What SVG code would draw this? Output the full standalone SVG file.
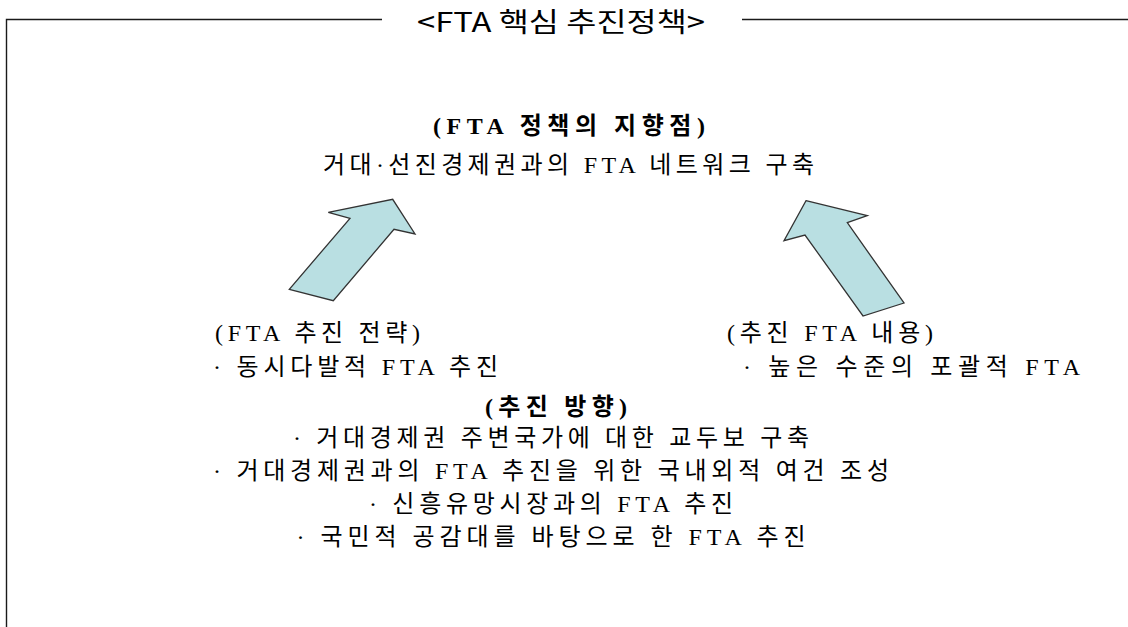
<svg xmlns="http://www.w3.org/2000/svg" width="1128" height="627" viewBox="0 0 1128 627">
<style>
.frame{stroke:#1a1a1a;stroke-width:1.4;fill:none}
.t{font-family:"Liberation Serif","Noto Sans CJK KR",serif;font-size:24px;fill:#000}
.c{text-anchor:middle}
.b{font-weight:bold}
.title{font-family:"Noto Sans CJK KR","Liberation Sans",sans-serif;font-size:27px;fill:#000}
.arrow{fill:#B9DFE2;stroke:#333;stroke-width:1.3;stroke-linejoin:miter}
</style>
<rect width="1128" height="627" fill="#fff"/>
<g id="frame">
<path class="frame" d="M6.5,627 V19.5 H382 M742,19.5 H1128"/>
<text class="title" x="417" y="32" textLength="288" lengthAdjust="spacingAndGlyphs">&lt;FTA 핵심 추진정책&gt;</text>
</g>
<g id="goal">
<text class="t b" x="433" y="134" textLength="272">(FTA 정책의 지향점)</text>
<text class="t" x="323" y="173" textLength="491">거대·선진경제권과의 FTA 네트워크 구축</text>
</g>
<g id="strategy">
<text class="t" x="215" y="341" textLength="205">(FTA 추진 전략)</text>
<text class="t" x="213" y="375" textLength="285">· 동시다발적 FTA 추진</text>
</g>
<g id="content">
<text class="t" x="727" y="341" textLength="206">(추진 FTA 내용)</text>
<text class="t" x="743" y="375" textLength="337">· 높은 수준의 포괄적 FTA</text>
</g>
<g id="direction">
<text class="t b" x="485" y="415" textLength="142">(추진 방향)</text>
<text class="t c" x="551" y="446" textLength="516">· 거대경제권 주변국가에 대한 교두보 구축</text>
<text class="t c" x="551" y="479" textLength="676">· 거대경제권과의 FTA 추진을 위한 국내외적 여건 조성</text>
<text class="t c" x="551" y="512" textLength="364">· 신흥유망시장과의 FTA 추진</text>
<text class="t c" x="551" y="545" textLength="509">· 국민적 공감대를 바탕으로 한 FTA 추진</text>
</g>
<g id="connectors">
<polygon class="arrow" points="289.3,289.3 333.3,300.7 394,229.3 415,234 392.7,199.3 328.3,212.3 350,218.3"/>
<polygon class="arrow" points="806,200.7 867.3,215.7 847.3,222.7 904,303 863,316 805,235 784,240.7"/>
</g>
</svg>
